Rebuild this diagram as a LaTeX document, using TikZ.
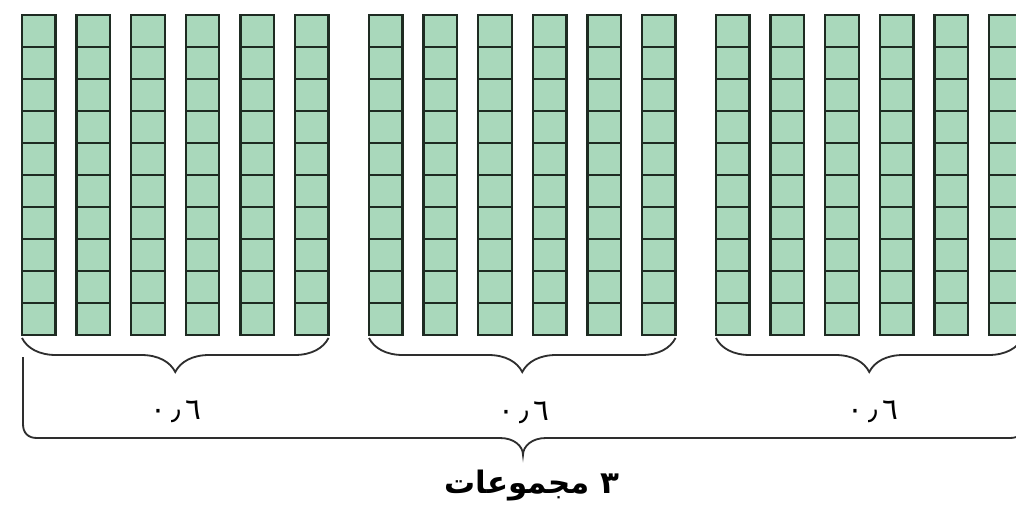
\documentclass[tikz,border=0pt]{standalone}
\usepackage{fontspec}
\usetikzlibrary{decorations.pathreplacing}
\newfontfamily\arabicfont[Script=Arabic]{DejaVu Sans}
\TeXXeTstate=1
\definecolor{RodFill}{HTML}{A9D8BB}
\definecolor{RodEdge}{HTML}{1E2B22}
\definecolor{BraceInk}{HTML}{2E2E2E}

\begin{document}
\begin{tikzpicture}[x=0.025cm,y=-0.025cm,
    rodcell/.style={fill=RodFill,draw=RodEdge,line width=1.7pt},
    curly/.style={draw=BraceInk,line width=1.3pt,decorate,
      decoration={brace,mirror,amplitude=0.85cm}},
    numlabel/.style={font=\arabicfont\fontsize{21}{24}\selectfont,text=black},
    caption/.style={font=\arabicfont\bfseries\fontsize{22}{26}\selectfont,text=black}]
  \useasboundingbox (0,0) rectangle (1016,518);
  \clip (0,0) rectangle (1016,518);

  \foreach \g in {0,1,2} {
    \foreach \c in {0,...,5} {
      \foreach \r in {0,...,9} {
        \draw[rodcell] ({22+347*\g+54.6*\c},{15+32*\r})
          rectangle ++(33.5,32);
      }
    }
    \draw[curly] ({22+347*\g},338) -- ({328.5+347*\g},338);
  }

  \draw[BraceInk,line width=1.3pt]
    (23,357) -- (23,424) .. controls (23,433) and (28,438) .. (37,438)
    -- (500,438)
    .. controls (514,438) and (523,446) .. (523,455)
    .. controls (523,446) and (532,438) .. (546,438)
    -- (1010,438) .. controls (1019,438) and (1024,433) .. (1024,424)
    -- (1024,357);

  \node[numlabel] (partA) at (176,412) {٠\,٫\,٦};
  \node[numlabel] (partB) at (524,413) {٠\,٫\,٦};
  \node[numlabel] (partC) at (873,412) {٠\,٫\,٦};
  \node[caption] (total) at (532,486) {\beginR ٣ مجموعات\endR};
\end{tikzpicture}
\end{document}
